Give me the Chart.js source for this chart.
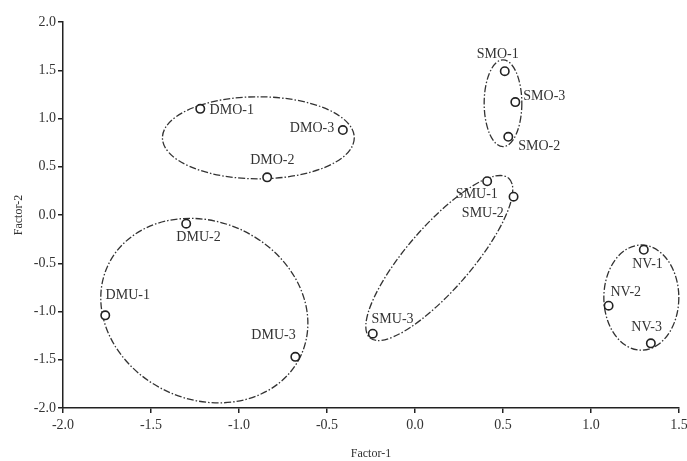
<!DOCTYPE html>
<html>
<head>
<meta charset="utf-8">
<script src="https://cdn.jsdelivr.net/npm/chart.js"></script>
<style>
  html, body { margin: 0; padding: 0; background: #fff; }
  #wrap { width: 687px; height: 461px; }
</style>
</head>
<body>
<div id="wrap"><canvas id="myChart"></canvas></div>
<script>
const sampleNames = ["DMO-1", "DMO-2", "DMO-3", "SMO-1", "SMO-2", "SMO-3", "SMU-1", "SMU-2", "SMU-3",
  "DMU-1", "DMU-2", "DMU-3", "NV-1", "NV-2", "NV-3"];
const factor1 = [-1.22, -0.84, -0.41, 0.51, 0.53, 0.57, 0.41, 0.56, -0.24, -1.76, -1.30, -0.68, 1.30, 1.10, 1.34];
const factor2 = [1.10, 0.39, 0.88, 1.49, 0.81, 1.17, 0.35, 0.19, -1.23, -1.04, -0.09, -1.47, -0.36, -0.94, -1.33];

const xTicks = [-2.0, -1.5, -1.0, -0.5, 0.0, 0.5, 1.0, 1.5];
const yTicks = [-2.0, -1.5, -1.0, -0.5, 0.0, 0.5, 1.0, 1.5, 2.0];

// group ellipses (centre in factor units, half axes in factor units, tilt in degrees)
const groupNames = ["DMO", "SMO", "SMU", "DMU", "NV"];
const groupCx = [-0.89, 0.50, 0.138, -1.197, 1.286];
const groupCy = [0.80, 1.158, -0.446, -0.991, -0.856];
const groupRx = [0.545, 0.107, 0.601, 0.605, 0.213];
const groupRy = [0.425, 0.45, 0.332, 0.921, 0.545];
const groupTilt = [0, 0, -49, 25, 0];

// where each label sits relative to its point (px, text centre)
const labelShift = {
  "DMO-1": [31.5, 1.4], "DMO-2": [5.2, -17.3], "DMO-3": [-30.8, -2],
  "SMO-1": [-7, -16.7], "SMO-2": [31, 9.7], "SMO-3": [29, -5.6],
  "SMU-1": [-10.3, 13.3], "SMU-2": [-30.7, 16.3], "SMU-3": [19.8, -14.3],
  "DMU-1": [22.5, -20], "DMU-2": [12.3, 14], "DMU-3": [-21.8, -21.7],
  "NV-1": [3.7, 15], "NV-2": [17.2, -13], "NV-3": [-4.2, -15.7]
};

const serif = "'Liberation Serif', 'Times New Roman', serif";
const ink = "#222";

const points = sampleNames.map((n, i) => ({ x: factor1[i], y: factor2[i], name: n }));

const groupPlugin = {
  id: "groups",
  beforeDatasetsDraw(chart) {
    const { ctx, scales: { x, y } } = chart;
    const pxX = Math.abs(x.getPixelForValue(1) - x.getPixelForValue(0));
    const pxY = Math.abs(y.getPixelForValue(0) - y.getPixelForValue(1));
    ctx.save();
    ctx.strokeStyle = "#333";
    ctx.lineWidth = 1.3;
    ctx.setLineDash([7, 2, 1.5, 2]);
    for (let i = 0; i < groupNames.length; i++) {
      ctx.beginPath();
      ctx.ellipse(x.getPixelForValue(groupCx[i]), y.getPixelForValue(groupCy[i]),
        groupRx[i] * pxX, groupRy[i] * pxY, groupTilt[i] * Math.PI / 180, 0, Math.PI * 2);
      ctx.stroke();
    }
    ctx.restore();
  },
  afterDatasetsDraw(chart) {
    const { ctx } = chart;
    const meta = chart.getDatasetMeta(0);
    ctx.save();
    ctx.font = "14px " + serif;
    ctx.fillStyle = "#333";
    ctx.textAlign = "center";
    ctx.textBaseline = "middle";
    meta.data.forEach((el, i) => {
      const s = labelShift[sampleNames[i]];
      ctx.fillText(sampleNames[i], el.x + s[0], el.y + s[1]);
    });
    ctx.restore();
  }
};

new Chart(document.getElementById("myChart"), {
  type: "scatter",
  data: {
    datasets: [{
      data: points,
      pointRadius: 4.2,
      pointHoverRadius: 4.2,
      pointBorderWidth: 1.6,
      pointBorderColor: ink,
      pointBackgroundColor: "#fff"
    }]
  },
  options: {
    responsive: true,
    maintainAspectRatio: false,
    animation: false,
    layout: { padding: { top: 22, right: 8, left: 0, bottom: 0 } },
    plugins: { legend: { display: false }, tooltip: { enabled: false } },
    scales: {
      x: {
        min: -2, max: 1.5,
        afterBuildTicks: (s) => { s.ticks = xTicks.map(v => ({ value: v })); },
        afterFit: (s) => { s.height = 53; s.paddingLeft = 0; s.paddingRight = 0; },
        border: { display: true, color: ink, width: 1.5 },
        grid: { display: true, drawOnChartArea: false, drawTicks: true, tickLength: 5, color: ink, lineWidth: 1.5 },
        ticks: { color: "#333", padding: 4, font: { family: serif, size: 14 }, callback: (v) => v.toFixed(1) },
        title: { display: true, text: "Factor-1", color: "#333", font: { family: serif, size: 12 }, padding: { top: 4, bottom: 0 } }
      },
      y: {
        min: -2, max: 2,
        afterBuildTicks: (s) => { s.ticks = yTicks.map(v => ({ value: v })); },
        afterFit: (s) => { s.width = 63; },
        border: { display: true, color: ink, width: 1.5 },
        grid: { display: true, drawOnChartArea: false, drawTicks: true, tickLength: 5, color: ink, lineWidth: 1.5 },
        ticks: { color: "#333", padding: 2, font: { family: serif, size: 14 }, callback: (v) => v.toFixed(1) },
        title: { display: true, text: "Factor-2", color: "#333", font: { family: serif, size: 12 }, padding: { top: 12, bottom: 0 } }
      }
    }
  },
  plugins: [groupPlugin]
});
</script>
</body>
</html>
